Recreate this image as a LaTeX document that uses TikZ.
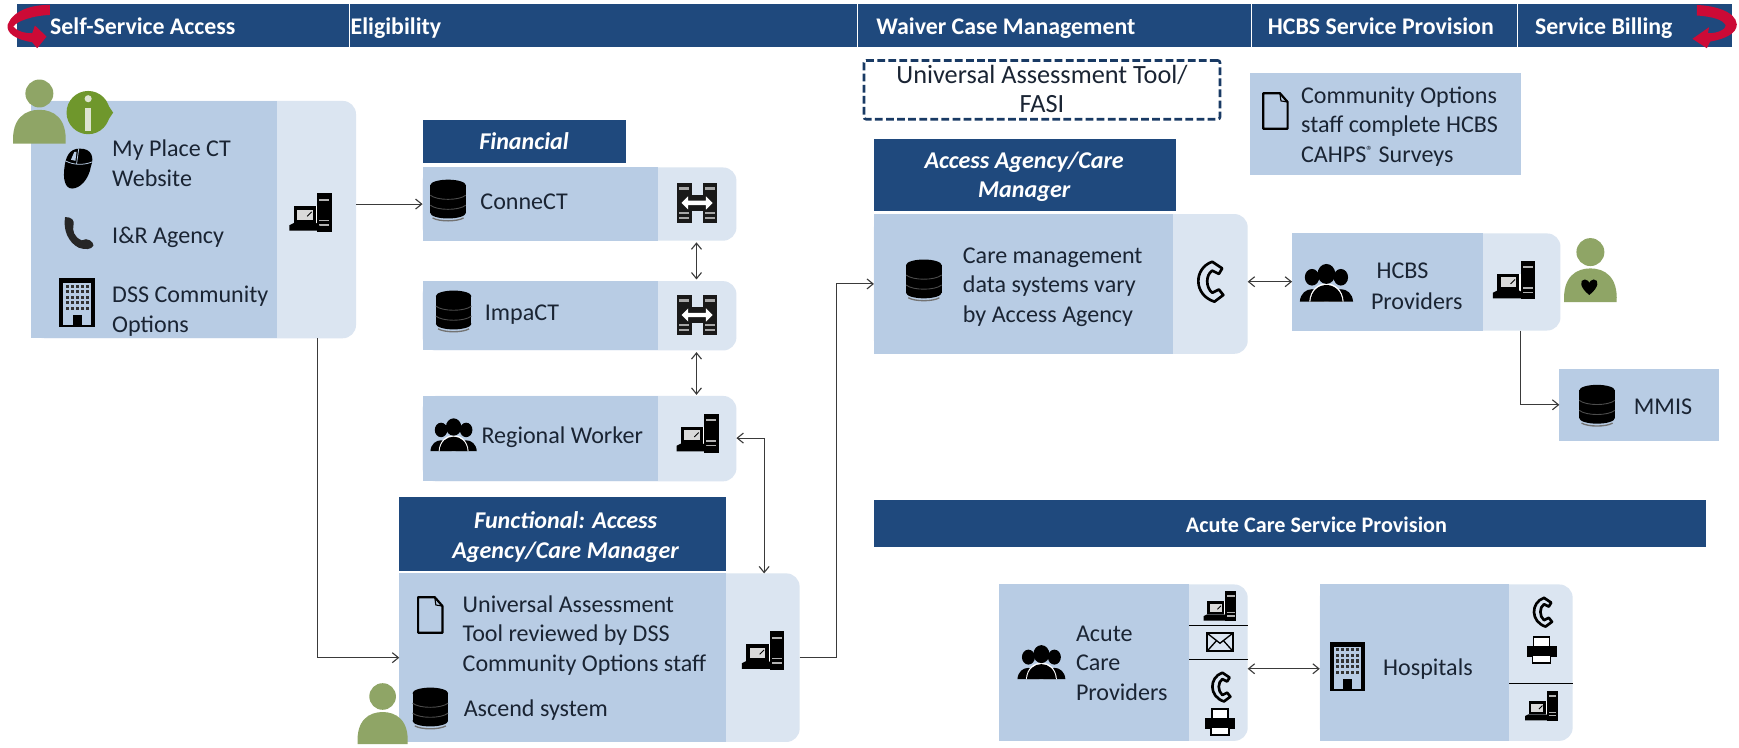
\documentclass[tikz,border=0pt]{standalone}
\usepackage{fontspec}
\setmainfont{Carlito}
\usetikzlibrary{arrows.meta,calc}
\definecolor{navy}{HTML}{1F497D}
\definecolor{dark}{HTML}{B8CCE4}
\definecolor{light}{HTML}{DBE5F1}
\definecolor{ink}{HTML}{1A2433}
\definecolor{wire}{HTML}{3A3A3A}
\definecolor{pgreen}{HTML}{8FA566}
\definecolor{igreen}{HTML}{6F972C}
\definecolor{crim}{HTML}{CC0A36}
\tikzset{
  x=1pt,y=-1pt,
  band/.style={fill=navy,draw=none,inner sep=0,outer sep=0,text=white,font=\fontsize{20}{26}\selectfont\bfseries,align=center},
  bandit/.style={band,font=\fontsize{21.7}{26.8}\selectfont\bfseries\itshape},
  bandtxt/.style={anchor=west,text=white,inner sep=0,font=\fontsize{21.5}{24}\selectfont\bfseries,text height=13.5pt,text depth=.5pt},
  bandover/.style={text=white,inner sep=0,align=center,font=\fontsize{21.7}{26.8}\selectfont\bfseries\itshape},
  lightbox/.style={fill=light,draw=none,rounded corners=12pt,inner sep=0,outer sep=0},
  darkbox/.style={fill=dark,draw=none,inner sep=0,outer sep=0},
  lbl/.style={anchor=west,text=ink,inner sep=0,align=left,font=\fontsize{21.7}{26.6}\selectfont},
  wireline/.style={draw=wire,line width=1pt,>={Straight Barb[length=5.5pt,width=9pt]}},
  divider/.style={draw=black,line width=1pt},
  pics/computer/.style={code={
    \fill[black] (6,-18) rectangle (19,17);
    \fill[white!70!black] (8,-13) rectangle (17,-11);
    \fill[white!70!black] (8,6) rectangle (17,7.5);
    \fill[white!70!black] (8,10) rectangle (17,11.5);
    \fill[white] (5,-6) rectangle (6,12);
    \fill[black] (-15,-6) rectangle (5,9);
    \fill[white!85!black] (-12,-3) rectangle (2,6);
    \fill[black] (-19,11) -- (-15,9) -- (5,9) -- (8,11) -- (8,16) -- (-19,16) -- cycle;
    \draw[black,line width=.8pt] (-3,3) -- (1,-1);
  }},
  pics/dbstack/.style={code={
    \fill[black] (-16,-13) rectangle (16,12);
    \fill[black] (0,-13) ellipse[x radius=16,y radius=5];
    \fill[black] (0,12) ellipse[x radius=16,y radius=5];
    \draw[black!70,line width=.8pt] (-16,-4) .. controls (-10,1) and (10,1) .. (16,-4);
    \draw[black!70,line width=.8pt] (-16,5) .. controls (-10,10) and (10,10) .. (16,5);
    \draw[black!55,line width=1.2pt] (-14,16.5) .. controls (-8,20) and (8,20) .. (14,16.5);
  }},
  pics/people/.style={code={
    \foreach \dx in {-13,13}{
      \fill[black] (\dx,-5) ellipse[x radius=6.5,y radius=7.5];
      \fill[black] (\dx-11,17) .. controls (\dx-10,2) and (\dx+10,2) .. (\dx+11,17) -- cycle;
    }
    \fill[white] (-15.5,17) .. controls (-14,-5) and (14,-5) .. (15.5,17) -- cycle;
    \fill[black] (0,-8) ellipse[x radius=8,y radius=9];
    \fill[black] (-14.5,17) .. controls (-13,-3) and (13,-3) .. (14.5,17) -- cycle;
  }},
  pics/sheet/.style={code={
    \draw[black,line width=2pt,fill=none,line join=round] (-11,-16) -- (4,-16) -- (11,-8) -- (11,16) -- (-11,16) -- cycle;
    \draw[black,line width=1pt] (4,-16) -- (5,-9) -- (11,-8);
  }},
  pics/block/.style={code={
    \fill[black] (-16,-22) rectangle (16,22);
    \fill[dark] (-12.5,-18) rectangle (12.5,22);
    \foreach \yy in {-15,-10,-5,0,5}{\foreach \xx in {-9,-4.5,0,4.5,9}{\fill[black!80] (\xx-1.4,\yy-1.4) rectangle (\xx+1.4,\yy+1.4);}}
    \fill[black] (-4,11) rectangle (4,22);
    \fill[black] (-16,20) rectangle (16,22);
  }},
  pics/rodent/.style={code={
    \fill[black] (2,-18) .. controls (13,-18) and (15,-10) .. (12,-2) .. controls (10,10) and (2,18) .. (-5,18) .. controls (-12,18) and (-13,8) .. (-12,0) .. controls (-11,-10) and (-8,-18) .. (2,-18) -- cycle;
    \draw[dark,line width=.7pt] (-11,-7) .. controls (-4,-3) and (6,-3) .. (13,-6);
    \draw[dark,line width=.7pt] (1,-18) -- (-1,-4);
    \fill[dark] (-3,-15) -- (-1,-15) -- (-2,-7) -- (-6,-8) -- cycle;
  }},
  pics/handsetsolid/.style={code={
    \fill[black!85] (-13,-16) .. controls (-6,-16) and (-4,-13) .. (-5,-8) .. controls (-6,-4) and (-5,3) .. (3,6) .. controls (8,3) and (14,7) .. (14,11) .. controls (12,15) and (6,15) .. (0,13) .. controls (-10,8) and (-15,-4) .. (-13,-16) -- cycle;
  }},
  pics/handset/.style={code={
    \draw[black,line width=2.4pt,line join=round,fill=none] (3,-18) -- (12,-12) -- (9,-7) -- (3,-10) .. controls (-3,-6) and (-3,5) .. (3,10) -- (9,7) -- (13,12) -- (5,18) .. controls (-14,12) and (-14,-12) .. (3,-18) -- cycle;
  }},
  pics/letter/.style={code={
    \draw[black,line width=1.6pt,fill=none] (-11.5,-8) rectangle (11.5,8);
    \draw[black,line width=1.2pt] (-11.5,-8) -- (0,1) -- (11.5,-8);
    \draw[black,line width=1.2pt] (-11.5,8) -- (-3,-1.5);
    \draw[black,line width=1.2pt] (11.5,8) -- (3,-1.5);
  }},
  pics/printer/.style={code={
    \draw[black,line width=1.2pt,fill=white] (-8,-13) rectangle (8,-3);
    \fill[black] (-15,-4) rectangle (15,7);
    \draw[black,line width=1.2pt,fill=white] (-9,5) rectangle (9,13);
  }},
  pics/exchange/.style={code={
    \fill[black!90] (-18,-18) rectangle (-5,18);
    \fill[black!90] (5,-18) rectangle (18,18);
    \fill[black!90] (-5,-7) rectangle (5,7);
    \fill[white] (-14,0) -- (-8,-6) -- (-8,-2) -- (8,-2) -- (8,-6) -- (14,0) -- (8,6) -- (8,2) -- (-8,2) -- (-8,6) -- cycle;
    \foreach \s in {-1,1}{
      \fill[gray!70] (\s*11.5-4.5,-14) rectangle (\s*11.5+4.5,-12);
      \fill[gray!70] (\s*11.5-4.5,8) rectangle (\s*11.5+4.5,10);
      \fill[gray!70] (\s*11.5-4.5,12.5) rectangle (\s*11.5+4.5,14.5);
    }
  }},
  pics/greenperson/.style={code={
    \fill[pgreen] (0,-14) circle[radius=12];
    \fill[pgreen] (-22.5,29) .. controls (-24,7) and (-12,0) .. (0,0) .. controls (12,0) and (24,7) .. (22.5,29) -- cycle;
  }},
}
\newcommand{\panel}[6]{% name x1 y1 xsplit x2 y2
  \node[lightbox,minimum width={(#5-#2)*1pt},minimum height={(#6-#3)*1pt}] (#1) at ({(#2+#5)/2},{(#3+#6)/2}) {};
  \node[darkbox,minimum width={(#4-#2)*1pt},minimum height={(#6-#3)*1pt}] (#1d) at ({(#2+#4)/2},{(#3+#6)/2}) {};
}
\begin{document}
\begin{tikzpicture}
\useasboundingbox (0,0) rectangle (1568,674.4);
\fill[white] (0,0) rectangle (1568,674.4);
% header band
\node[band,minimum width=1547pt,minimum height=38pt] (top) at (788.5,23) {};
\foreach \xx in {315,773,1128,1368}{\draw[white,line width=.9pt] (\xx,4) -- (\xx,42);}
\node[bandtxt] (h1) at (45,25) {Self-Service Access};
\node[bandtxt] (h2) at (316,25) {Eligibility};
\node[bandtxt] (h3) at (790,25) {Waiver Case Management};
\node[bandtxt] (h4) at (1143,25) {HCBS Service Provision};
\node[bandtxt] (h5) at (1384,25) {Service Billing};
% red return arrows
\fill[crim] (45,4.5) .. controls (30,4) and (12,9) .. (7,22) .. controls (5,30) and (15,36) .. (29,38) -- (33.5,43.5) -- (42,33) -- (31.5,23) -- (29,30) .. controls (22,30) and (15,28) .. (12,24) .. controls (15,19) and (30,14) .. (45,13.5) -- cycle;
\fill[crim] (1530,4.5) .. controls (1545,5) and (1565,10) .. (1566,22) .. controls (1566,30) and (1556,35) .. (1542,37.5) -- (1539,43.5) -- (1526,35) -- (1541,24.5) -- (1540,30) .. controls (1550,30) and (1556,26) .. (1556,23) .. controls (1554,18) and (1545,15) .. (1530,14) -- cycle;
% Self service panel
\panel{b1}{28}{91}{250}{321}{305}
\pic[scale=1.05] at (35.5,99) {greenperson};
\fill[igreen] (79.5,101.5) circle[radius=19.5];
\fill[igreen] (97,94) -- (102,101.5) -- (97,109) -- cycle;
\fill[white!70!pgreen] (79.5,89) circle[radius=3.2];
\fill[white!70!pgreen] (76.5,97.5) rectangle (82.5,118);
\pic at (70,152) {rodent};
\pic[scale=.95] at (71,211) {handsetsolid};
\pic at (69.5,273) {block};
\node[lbl] (t1) at (101,147) {My Place CT\\Website};
\node[lbl] (t2) at (101,214) {I\&R Agency};
\node[lbl] (t3) at (101,280.5) {DSS Community\\Options};
\pic at (280,192) {computer};
% Financial
\node[band,bandit,minimum width=183pt,minimum height=39pt] (fh) at (472.5,127.5) {Financial};
\panel{cn}{381}{151}{593}{664}{217}
\pic at (404,180) {dbstack};
\node[lbl] (t4) at (433,182) {ConneCT};
\pic at (628.5,183) {exchange};
\panel{im}{381}{253.5}{593}{664}{316}
\pic at (409,280) {dbstack};
\node[lbl] (t5) at (437,284) {ImpaCT};
\pic at (628.5,284) {exchange};
\panel{rw}{381}{357}{593}{664}{434}
\pic[scale=.87] at (409,392) {people};
\node[lbl] (t6) at (434,394) {Regional Worker};
\pic at (629,391) {computer};
% Functional
\node[band,minimum width=295pt,minimum height=67pt] (ffh) at (507.5,481.5) {};
\node[bandover] (ffht) at (510,484.5) {Functional: Access\\Agency/Care Manager};
\panel{fn}{360}{517}{655}{721}{669}
\pic at (388,554.5) {sheet};
\node[lbl] (t7) at (417,573) {Universal Assessment\\Tool reviewed by DSS\\Community Options staff};
\pic at (388,638) {dbstack};
\node[lbl] (t8) at (418,640) {Ascend system};
\pic at (345,642) {greenperson};
\pic at (688,587) {computer};
% Waiver
\node[draw=navy!80!black,dash pattern=on 7pt off 3pt,line width=2.4pt,rounded corners=2pt,inner sep=0,minimum width=321pt,minimum height=53pt] (ua) at (939.5,81) {};
\node[inner sep=0,align=center,font=\fontsize{23.7}{26.6}\selectfont,text=ink] (uat) at (939.5,80) {Universal Assessment Tool/\\FASI};
\node[band,minimum width=272pt,minimum height=65pt] (ah) at (924,157.5) {};
\node[bandover] (aht) at (923.5,159.5) {Access Agency/Care\\Manager};
\panel{ac}{788}{193}{1058}{1125}{319}
\pic at (833,252) {dbstack};
\node[lbl] (t9) at (868,259) {Care management\\data systems vary\\by Access Agency};
\pic at (1090,254) {handset};
% Community
\node[darkbox,minimum width=244pt,minimum height=92pt] (co) at (1249,112) {};
\pic at (1150,100) {sheet};
\node[lbl] (t10) at (1173,114) {Community Options\\staff complete HCBS\\CAHPS\raisebox{.55ex}{\fontsize{12}{12}\selectfont ®} Surveys};
% HCBS
\panel{hc}{1165}{210.5}{1337}{1407}{298}
\pic at (1196,255) {people};
\node[lbl] (t11) at (1241,244) {HCBS};
\node[lbl] (t12) at (1236,272) {Providers};
\pic at (1365,253) {computer};
\pic[scale=1.05] at (1434,242) {greenperson};
\fill[black] (1433,266) .. controls (1424,259) and (1424,252) .. (1429,252) .. controls (1431,252) and (1433,254) .. (1433,255) .. controls (1433,254) and (1435,252) .. (1437,252) .. controls (1442,252) and (1442,259) .. (1433,266) -- cycle;
% MMIS
\node[darkbox,minimum width=144pt,minimum height=65pt] (mm) at (1478,365) {};
\pic at (1440,365) {dbstack};
\node[lbl] (t13) at (1473,367) {MMIS};
% Acute
\node[band,minimum width=750pt,minimum height=42pt] (acute) at (1163,472) {};
\node[text=white,font=\fontsize{20}{26}\selectfont\bfseries,inner sep=0] (acutet) at (1187,473) {Acute Care Service Provision};
\panel{ap}{901}{527}{1072}{1125}{668}
\pic[scale=.9] at (939,597) {people};
\node[lbl] (t14) at (970,598) {Acute\\Care\\Providers};
\pic[scale=.78] at (1100,547) {computer};
\draw[divider] (1072,564) -- (1125,564);
\pic at (1100,579) {letter};
\draw[divider] (1072,595) -- (1125,595);
\pic[scale=.72] at (1100,619.5) {handset};
\pic[scale=.9] at (1100,651) {printer};
\panel{ho}{1190}{527}{1361}{1418}{668}
\pic at (1215,601) {block};
\node[lbl] (t15) at (1247,603) {Hospitals};
\pic[scale=.72] at (1390,552) {handset};
\pic[scale=.9] at (1390,586) {printer};
\draw[divider] (1361,616) -- (1418,616);
\pic[scale=.78] at (1390,637) {computer};
% connectors
\draw[wireline,->] (b1.east |- cn.west) -- (cn.west);
\draw[wireline,<->] ([xshift=105.5pt,yshift=-1.5pt]cn.south) -- ([xshift=105.5pt,yshift=1.5pt]cn.south |- im.north);
\draw[wireline,<->] ([xshift=105.5pt,yshift=-1.5pt]im.south) -- ([xshift=105.5pt,yshift=1pt]im.south |- rw.north);
\draw[wireline,->] ([xshift=111.5pt]b1.south) |- (fn.west |- 0,593);
\draw[wireline,<->] (rw.east |- 0,395) -| ([xshift=148.5pt]fn.north);
\draw[wireline,->] (fn.east |- 0,593) -| (754,256) -- (ac.west |- 0,256);
\draw[wireline,<->] (ac.east |- 0,254) -- (hc.west |- 0,254);
\draw[wireline,->] ([xshift=85pt]hc.south) |- (mm.west);
\draw[wireline,<->] (ap.east |- 0,603) -- (ho.west |- 0,603);
\end{tikzpicture}
\end{document}
